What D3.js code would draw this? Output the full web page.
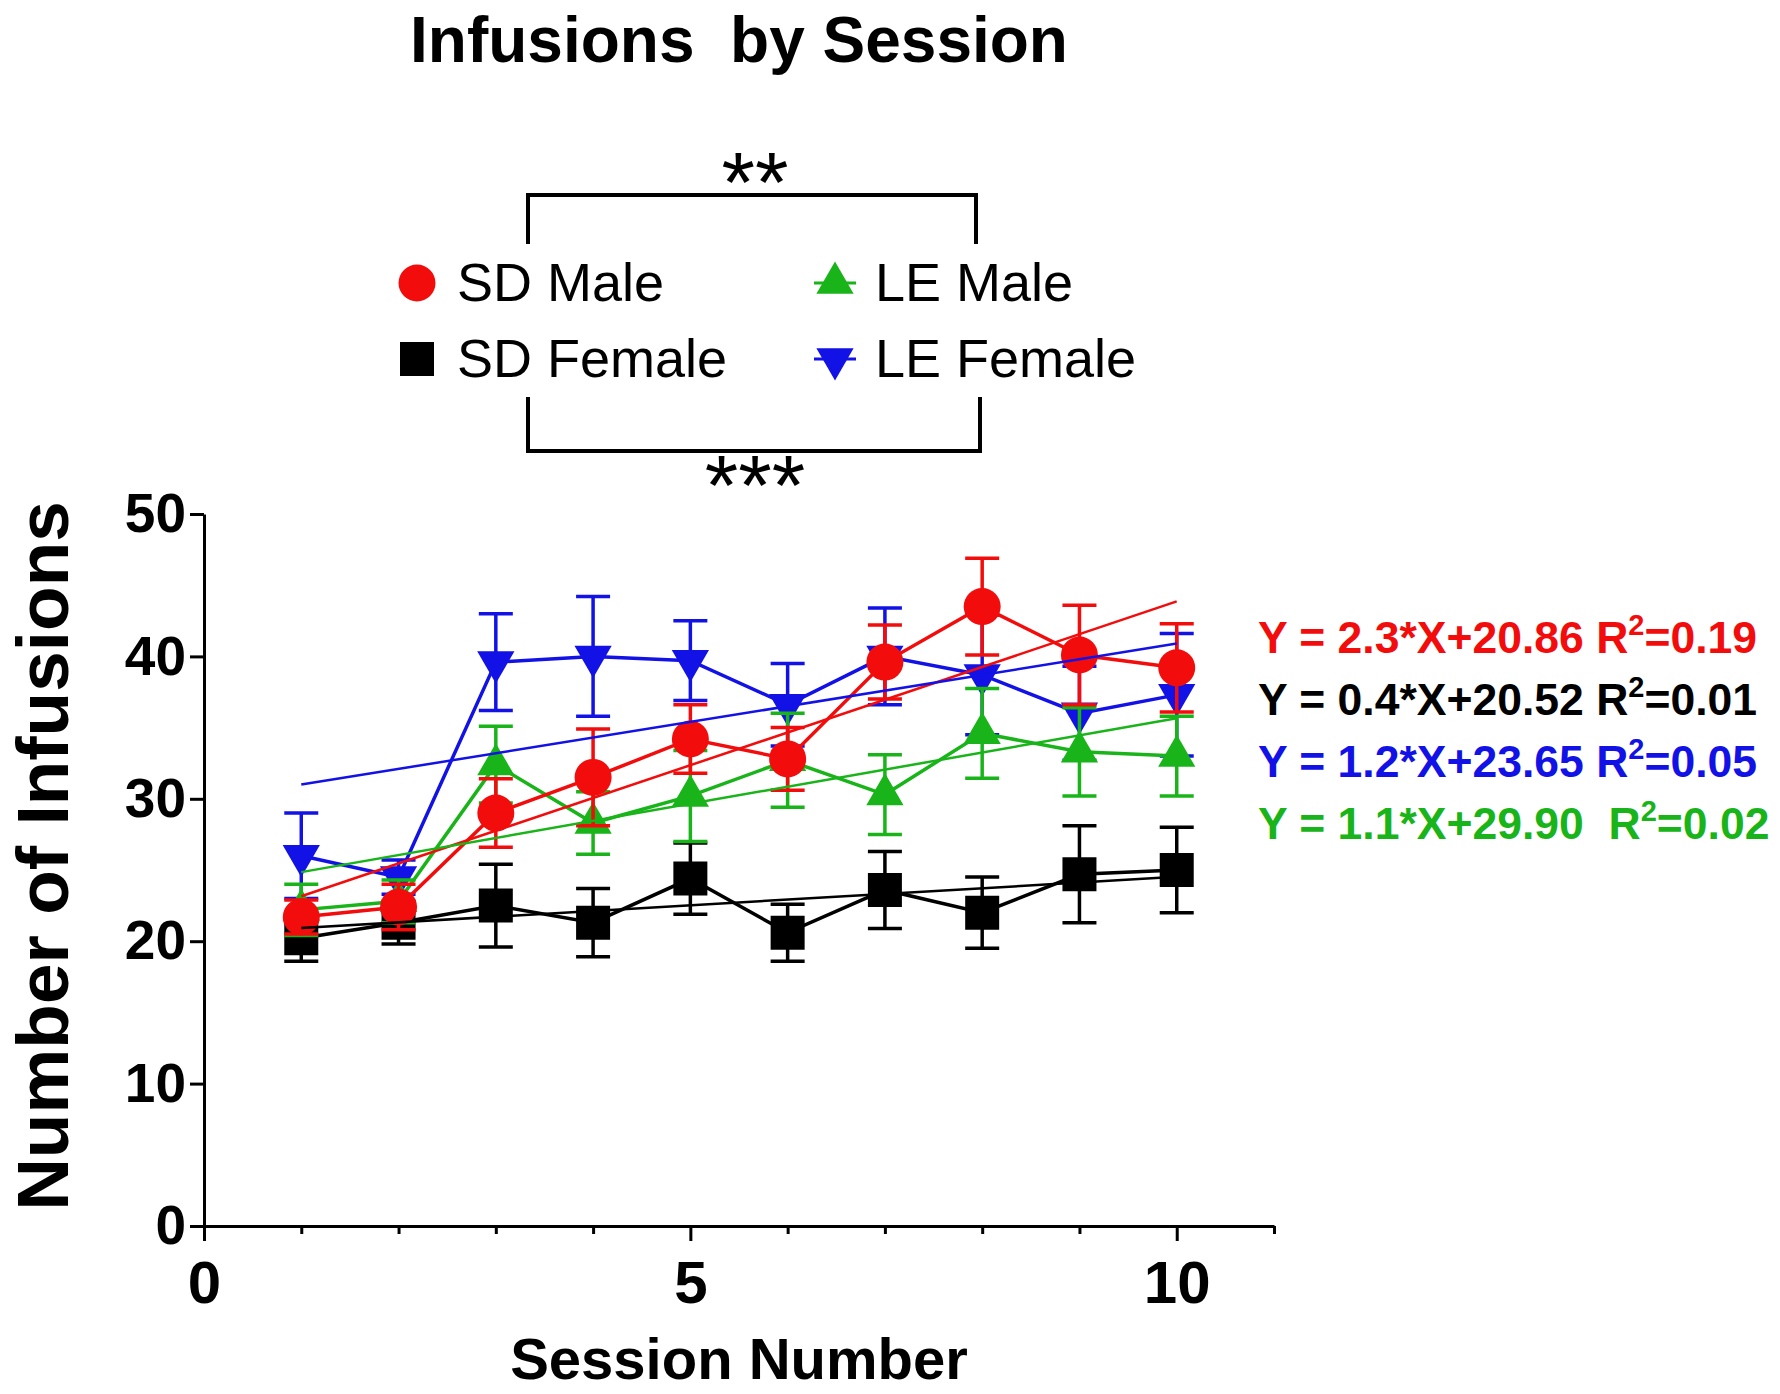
<!DOCTYPE html>
<html>
<head>
<meta charset="utf-8">
<script src="https://cdn.jsdelivr.net/npm/d3@7"></script>
<style>
	body { margin: 0; background: #fff; }
	svg { display: block; }
	text { font-family: "Liberation Sans", Arial, sans-serif; }
</style>
</head>
<body>
<svg></svg>
<script>
var width = 1780,
	height = 1394;

// data (mean +/- SEM per session)
var sessions = [1, 2, 3, 4, 5, 6, 7, 8, 9, 10];
var sdMale = [21.7, 22.4, 29.0, 31.5, 34.2, 32.8, 39.6, 43.5, 40.1, 39.2];
var sdMaleSem = [1.2, 1.6, 2.4, 3.4, 2.4, 2.2, 2.6, 3.4, 3.5, 3.1];
var sdFemale = [20.2, 21.3, 22.5, 21.3, 24.4, 20.6, 23.6, 22.0, 24.7, 25.0];
var sdFemaleSem = [1.6, 1.5, 2.9, 2.4, 2.5, 2.0, 2.7, 2.5, 3.4, 3.0];
var leMale = [22.2, 22.8, 32.4, 28.3, 30.2, 32.7, 30.3, 34.6, 33.3, 33.0];
var leMaleSem = [1.8, 1.5, 2.7, 2.2, 3.2, 3.3, 2.8, 3.15, 3.1, 2.8];
var leFemale = [26.0, 24.5, 39.6, 40.0, 39.7, 36.6, 40.0, 38.7, 36.0, 37.3];
var leFemaleSem = [3.0, 1.2, 3.4, 4.2, 2.8, 2.9, 3.4, 4.2, 3.3, 4.3];

// regression lines as drawn in the figure
var fitSlope = [2.3, 0.4, 1.1, 1.2];
var fitIntercept = [20.86, 20.52, 29.9, 23.65];

var seriesNames = ["SD Male", "SD Female", "LE Male", "LE Female"];
var seriesColors = ["#f20c0c", "#000000", "#19b419", "#1212e6"];
var equations = [
	["Y = 2.3*X+20.86 R", "=0.19"],
	["Y = 0.4*X+20.52 R", "=0.01"],
	["Y = 1.2*X+23.65 R", "=0.05"],
	["Y = 1.1*X+29.90  R", "=0.02"],
];
var equationColors = ["#f20c0c", "#000000", "#1212e6", "#19b419"];
var yTicks = [0, 10, 20, 30, 40, 50];
var xTicks = d3.range(0, 12);
var xLabelTicks = [0, 5, 10];

var series = [
	{ name: seriesNames[0], color: seriesColors[0], mean: sdMale, sem: sdMaleSem, sym: "circle", fit: 0 },
	{ name: seriesNames[1], color: seriesColors[1], mean: sdFemale, sem: sdFemaleSem, sym: "square", fit: 1 },
	{ name: seriesNames[2], color: seriesColors[2], mean: leMale, sem: leMaleSem, sym: "up", fit: 3 },
	{ name: seriesNames[3], color: seriesColors[3], mean: leFemale, sem: leFemaleSem, sym: "down", fit: 2 },
];
var drawOrder = [1, 3, 2, 0];

var svg = d3.select("svg").attr("width", width).attr("height", height);

var x = d3.scaleLinear().domain([0, 11]).range([204, 1274]);
var y = d3.scaleLinear().domain([0, 50]).range([1226, 514]);

const symbolPath = (s) => {
	if (s === "circle") return d3.symbol(d3.symbolCircle, Math.PI * 18.5 * 18.5)();
	if (s === "square") return d3.symbol(d3.symbolSquare, 34 * 34)();
	return d3.symbol(d3.symbolTriangle, 600)();
};
const symbolTransform = (s, px, py) =>
	`translate(${px},${py})` + (s === "down" ? " rotate(180)" : "");

// title
svg.append("text")
	.attr("x", 739).attr("y", 62)
	.attr("text-anchor", "middle")
	.attr("font-size", 64).attr("font-weight", "bold")
	.attr("xml:space", "preserve")
	.text("Infusions  by Session");

// axes
var yAxis = svg.append("g")
	.attr("transform", `translate(${x(0)},0)`)
	.call(d3.axisLeft(y).tickValues(yTicks).tickSize(14).tickSizeOuter(0).tickPadding(4));
yAxis.selectAll("text").attr("font-size", 55).attr("font-weight", "bold").attr("fill", "#000");

var xAxis = svg.append("g")
	.attr("transform", `translate(0,${y(0)})`)
	.call(
		d3.axisBottom(x).tickValues(xTicks).tickSize(8).tickSizeOuter(0).tickPadding(26)
			.tickFormat((d) => (xLabelTicks.includes(d) ? d : ""))
	);
xAxis.selectAll(".tick line").attr("y2", (d) => (xLabelTicks.includes(d) ? 15 : 8));
xAxis.selectAll("text").attr("font-size", 60).attr("font-weight", "bold").attr("fill", "#000");

svg.selectAll(".domain, .tick line").attr("stroke", "#000").attr("stroke-width", 3);

svg.append("text")
	.attr("x", 739).attr("y", 1379)
	.attr("text-anchor", "middle")
	.attr("font-size", 58).attr("font-weight", "bold")
	.text("Session Number");

svg.append("text")
	.attr("transform", "translate(68,856) rotate(-90)")
	.attr("text-anchor", "middle")
	.attr("font-size", 73).attr("font-weight", "bold")
	.text("Number of Infusions");

// data
var plot = svg.append("g");
var line = d3.line().x((d) => x(d[0])).y((d) => y(d[1]));

drawOrder.forEach((i) => {
	let s = series[i];
	let pts = sessions.map((k, j) => [k, s.mean[j], s.sem[j]]);
	let g = plot.append("g");
	g.append("path")
		.attr("d", line(pts))
		.attr("fill", "none").attr("stroke", s.color).attr("stroke-width", 3.5);
	let eb = g.selectAll(".eb").data(pts).enter().append("g");
	eb.append("line")
		.attr("x1", (d) => x(d[0])).attr("x2", (d) => x(d[0]))
		.attr("y1", (d) => y(d[1] - d[2])).attr("y2", (d) => y(d[1] + d[2]));
	[-1, 1].forEach((sg) =>
		eb.append("line")
			.attr("x1", (d) => x(d[0]) - 17).attr("x2", (d) => x(d[0]) + 17)
			.attr("y1", (d) => y(d[1] + sg * d[2])).attr("y2", (d) => y(d[1] + sg * d[2]))
	);
	eb.selectAll("line").attr("stroke", s.color).attr("stroke-width", 3.5);
	g.selectAll(".pt").data(pts).enter().append("path")
		.attr("d", symbolPath(s.sym))
		.attr("transform", (d) => symbolTransform(s.sym, x(d[0]), y(d[1])))
		.attr("fill", s.color);
});

// linear fits
series.forEach((s) => {
	let f = s.fit;
	let x0 = sessions[0], x1 = sessions[sessions.length - 1];
	plot.append("path")
		.attr("d", line([[x0, fitSlope[f] * x0 + fitIntercept[f]], [x1, fitSlope[f] * x1 + fitIntercept[f]]]))
		.attr("stroke", s.color).attr("stroke-width", 2.5).attr("fill", "none");
});

// equations
var eq = svg.append("g");
equations.forEach((e, i) => {
	let t = eq.append("text")
		.attr("x", 1258).attr("y", 653 + i * 62)
		.attr("font-size", 44.5).attr("font-weight", "bold")
		.attr("fill", equationColors[i])
		.attr("xml:space", "preserve");
	t.append("tspan").text(e[0]);
	t.append("tspan").attr("font-size", 29).attr("dy", -18).text("2");
	t.append("tspan").attr("dy", 18).text(e[1]);
});

// legend
var legendPos = [
	[417, 283],
	[417, 359],
	[835, 283],
	[835, 359],
];
series.forEach((s, i) => {
	let [lx, ly] = legendPos[i];
	if (s.sym === "up" || s.sym === "down")
		svg.append("line")
			.attr("x1", lx - 21).attr("x2", lx + 21).attr("y1", ly).attr("y2", ly)
			.attr("stroke", s.color).attr("stroke-width", 3);
	svg.append("path")
		.attr("d", symbolPath(s.sym))
		.attr("transform", symbolTransform(s.sym, lx, ly))
		.attr("fill", s.color);
	svg.append("text")
		.attr("x", lx + 40).attr("y", ly + 18)
		.attr("font-size", 54)
		.text(s.name);
});

// significance brackets
svg.append("path")
	.attr("d", "M528,244V195H976V244")
	.attr("fill", "none").attr("stroke", "#000").attr("stroke-width", 4);
svg.append("path")
	.attr("d", "M528,397V451H980V397")
	.attr("fill", "none").attr("stroke", "#000").attr("stroke-width", 4);
svg.append("text")
	.attr("x", 755).attr("y", 212).attr("text-anchor", "middle")
	.attr("font-size", 86).text("**");
svg.append("text")
	.attr("x", 755).attr("y", 515).attr("text-anchor", "middle")
	.attr("font-size", 86).text("***");
</script>
</body>
</html>
